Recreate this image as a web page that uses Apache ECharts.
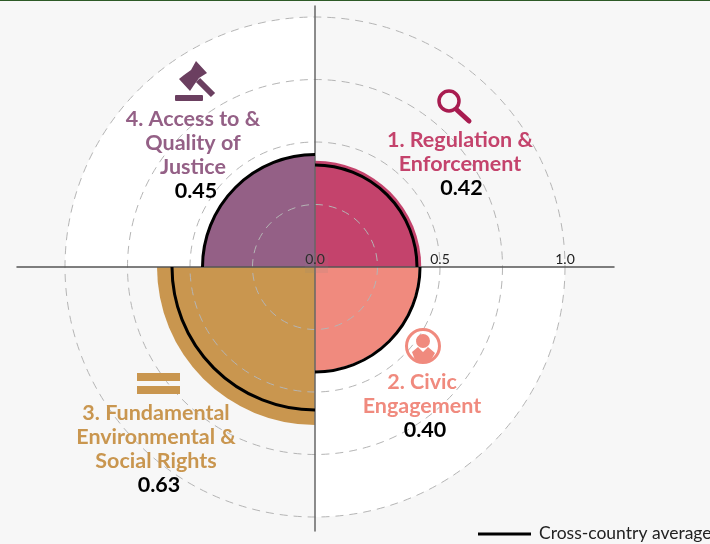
<!DOCTYPE html>
<html>
<head>
<meta charset="utf-8">
<title>Chart</title>
<script src="https://cdn.jsdelivr.net/npm/echarts@6/dist/echarts.min.js"></script>
<style>
html,body{margin:0;padding:0;background:#f7f7f7;overflow:hidden}
#main{width:710px;height:544px}
</style>
</head>
<body>
<div id="main"></div>
<script>
var categories = ['1. Regulation &\nEnforcement', '2. Civic\nEngagement', '3. Fundamental\nEnvironmental &\nSocial Rights', '4. Access to &\nQuality of\nJustice'];
var scoreLabels = ['0.42', '0.40', '0.63', '0.45'];
var scores = [0.425, 0.415, 0.632, 0.45];
var averages = [0.408, 0.42, 0.572, 0.45];
var whiteBands = [0, 1, 0, 1];
var colors = ['#c4436c', '#f08a7e', '#c9964f', '#946086'];
var tickLabels = [0, 0.5, 1];
var legendLabel = 'Cross-country average';

var font = 'Lato';

function scoreLabel(i, x, y, valueX) {
	var lines = categories[i].split('\n');
	var out = [{
		type: 'text', z: 40, x: x, y: y,
		style: {
			text: categories[i], fill: colors[i], font: 'bold 21.5px ' + font,
			lineHeight: 24, align: 'center', verticalAlign: 'top'
		}
	}, {
		type: 'text', z: 40, x: valueX, y: y + lines.length * 24,
		style: {
			text: scoreLabels[i], fill: '#000', font: 'bold 21.5px ' + font,
			lineHeight: 24, align: 'center', verticalAlign: 'top'
		}
	}];
	return out;
}

var icons = [
	// magnifier
	{type: 'circle', z: 40, shape: {cx: 449, cy: 101, r: 10}, style: {fill: 'none', stroke: '#a81c50', lineWidth: 3.5}},
	{type: 'line', z: 40, shape: {x1: 457, y1: 110, x2: 469, y2: 121}, style: {stroke: '#a81c50', lineWidth: 5, lineCap: 'round'}},
	// person
	{type: 'circle', z: 40, shape: {cx: 423, cy: 346, r: 16.5}, style: {fill: 'none', stroke: '#f08a7e', lineWidth: 3}},
	{type: 'circle', z: 40, shape: {cx: 423, cy: 341, r: 7}, style: {fill: '#f08a7e'}},
	{type: 'polygon', z: 40, shape: {points: [[412, 352], [418, 347], [423, 352], [428, 347], [435, 353], [431, 360], [423, 363], [415, 360]]}, style: {fill: '#f08a7e'}},
	// equals
	{type: 'rect', z: 40, shape: {x: 137, y: 373, width: 43, height: 8}, style: {fill: '#c9964f'}},
	{type: 'rect', z: 40, shape: {x: 137, y: 386, width: 43, height: 8}, style: {fill: '#c9964f'}},
	// gavel, head is waisted between its two caps
	{type: 'polygon', z: 40, shape: {points: [[179, 79], [184, 75], [191, 70], [196, 61], [207, 73], [199, 78], [194, 85], [190, 91]]}, style: {fill: '#6b3f60'}},
	{type: 'line', z: 40, shape: {x1: 198, y1: 80, x2: 213, y2: 95}, style: {stroke: '#6b3f60', lineWidth: 6}},
	{type: 'rect', z: 40, shape: {x: 175, y: 95, width: 28, height: 6, r: 1}, style: {fill: '#6b3f60'}}
];

var myChart = echarts.init(document.getElementById('main'));
var option = {
	backgroundColor: '#f7f7f7',
	animation: false,
	polar: {center: [315, 267], radius: 250},
	angleAxis: {
		type: 'category',
		data: categories,
		startAngle: 90,
		z: 10,
		axisLine: {show: false},
		axisTick: {show: false},
		axisLabel: {show: false},
		splitLine: {show: false}
	},
	radiusAxis: {
		min: 0,
		max: 1,
		interval: 0.25,
		z: 10,
		axisLine: {show: false},
		axisTick: {show: false},
		axisLabel: {show: false},
		splitLine: {show: true, lineStyle: {color: '#b5b5b5', type: [8, 6], width: 1}}
	},
	// top half grid carries the horizontal axis, full height grid the vertical one
	grid: [
		{left: 17, top: 6, width: 597, height: 261},
		{left: 17, top: 6, width: 597, height: 525}
	],
	xAxis: [{
		gridIndex: 0,
		type: 'value',
		min: -1.192,
		max: 1.196,
		z: 20,
		axisLine: {show: true, onZero: false, lineStyle: {color: '#555', width: 1.5}},
		axisTick: {show: false},
		splitLine: {show: false},
		axisLabel: {
			inside: true,
			margin: 1,
			color: '#222',
			fontFamily: font,
			fontSize: 14,
			customValues: tickLabels,
			formatter: function (v) { return v.toFixed(1); }
		}
	}, {
		gridIndex: 1,
		type: 'value',
		min: -1.192,
		max: 1.196,
		show: false
	}],
	yAxis: [{
		gridIndex: 0,
		type: 'value',
		min: 0,
		max: 1,
		show: false
	}, {
		gridIndex: 1,
		type: 'value',
		min: -1.056,
		max: 1.044,
		z: 20,
		axisLine: {show: true, onZero: true, lineStyle: {color: '#666', width: 1.5}},
		axisTick: {show: false},
		axisLabel: {show: false},
		splitLine: {show: false}
	}],
	series: [{
		name: 'band',
		type: 'bar',
		coordinateSystem: 'polar',
		data: whiteBands,
		barCategoryGap: '0%',
		barGap: '-100%',
		z: 1,
		itemStyle: {color: '#fff'},
		silent: true
	}, {
		name: 'score',
		type: 'bar',
		coordinateSystem: 'polar',
		barCategoryGap: '0%',
		barGap: '-100%',
		z: 2,
		data: scores.map(function (v, i) {
			return {value: v, itemStyle: {color: colors[i]}};
		})
	}, {
		name: 'average',
		type: 'custom',
		coordinateSystem: 'polar',
		z: 30,
		data: averages.map(function (v, i) { return [v, i]; }),
		encode: {radius: 0, angle: 1},
		renderItem: function (params, api) {
			var p = api.coord([api.value(0), api.value(1)]);
			var cx = params.coordSys.cx, cy = params.coordSys.cy;
			var r = Math.sqrt((p[0] - cx) * (p[0] - cx) + (p[1] - cy) * (p[1] - cy));
			var i = api.value(1);
			return {
				type: 'arc',
				shape: {
					cx: cx, cy: cy, r: r,
					startAngle: -Math.PI / 2 + i * Math.PI / 2,
					endAngle: i * Math.PI / 2,
					clockwise: true
				},
				style: {fill: null, stroke: '#000', lineWidth: 3}
			};
		}
	}],
	graphic: {
		elements: [
			{type: 'rect', z: 50, shape: {x: 0, y: 0, width: 710, height: 1}, style: {fill: '#2d5a27'}},
			{type: 'rect', z: 35, shape: {x: 305, y: 253, width: 23, height: 20}, style: {fill: 'rgba(128,128,128,0.12)'}},
			{type: 'line', z: 40, shape: {x1: 478, y1: 534, x2: 531, y2: 534}, style: {stroke: '#000', lineWidth: 3}},
			{type: 'text', z: 40, x: 539, y: 533, style: {text: legendLabel, fill: '#222', font: '17.5px ' + font, verticalAlign: 'middle'}}
		].concat(icons,
			scoreLabel(0, 460, 128, 461.5),
			scoreLabel(1, 422, 370, 425),
			scoreLabel(2, 156, 401, 159),
			scoreLabel(3, 193, 107, 196))
	}
};
myChart.setOption(option);
</script>
</body>
</html>
